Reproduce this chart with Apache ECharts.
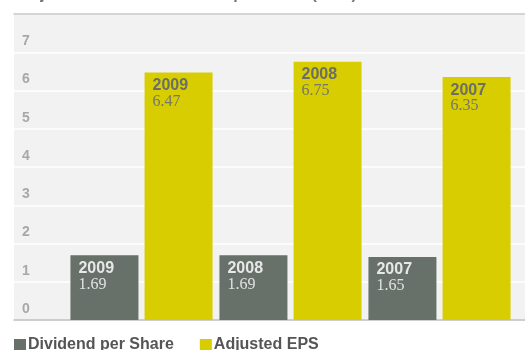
<!DOCTYPE html>
<html>
<head>
<meta charset="utf-8">
<script src="https://cdn.jsdelivr.net/npm/echarts@6/dist/echarts.min.js"></script>
<style>html,body{margin:0;padding:0;background:#fff;}#c{width:525px;height:350px;}</style>
</head>
<body>
<div id="c"></div>
<script>
var years = ['2009', '2008', '2007'];
var dividendPerShare = [1.69, 1.69, 1.65];
var adjustedEPS = [6.47, 6.75, 6.35];
var yTicks = [0, 1, 2, 3, 4, 5, 6, 7];
var seriesNames = ['Dividend per Share', 'Adjusted EPS'];
var titleText = 'Adjusted EPS and Dividend per Share (euro)';

var chart = echarts.init(document.getElementById('c'), null, {renderer: 'canvas'});

function labelCfg(yearColor, valColor) {
  return {
    show: true,
    position: [8, 5],
    formatter: function (p) {
      return '{a|' + years[p.dataIndex] + '}\n{b|' + p.value.toFixed(2) + '}';
    },
    rich: {
      a: {fontFamily: 'Liberation Sans, Arial, sans-serif', fontWeight: 'bold', fontSize: 16, color: yearColor, lineHeight: 16},
      b: {fontFamily: 'Liberation Serif, Times New Roman, serif', fontSize: 16, color: valColor, lineHeight: 16}
    }
  };
}

var option = {
  animation: false,
  title: {
    text: titleText,
    left: 14,
    top: -18,
    padding: 5,
    textStyle: {fontFamily: 'Liberation Sans, Arial, sans-serif', fontWeight: 'bold', fontSize: 16, color: '#777'}
  },
  legend: {
    data: seriesNames.map(function (n) { return {name: n, icon: 'rect'}; }),
    left: 14,
    top: 337,
    padding: 0,
    itemWidth: 12,
    itemHeight: 12,
    itemGap: 26,
    textStyle: {fontFamily: 'Liberation Sans, Arial, sans-serif', fontWeight: 'bold', fontSize: 16, color: '#555', padding: [0, 0, 0, -3]}
  },
  grid: [
    {left: 14, right: 0, top: 14, bottom: 30, show: true, backgroundColor: '#f2f2f2', borderWidth: 0},
    {left: 67, right: 11, top: 14, bottom: 30}
  ],
  xAxis: [
    {gridIndex: 0, type: 'value', min: 0, max: 1, position: 'bottom',
      axisLine: {show: true, lineStyle: {color: '#bdbdbd', width: 1.5}},
      axisTick: {show: false}, axisLabel: {show: false}, splitLine: {show: false}},
    {gridIndex: 0, type: 'value', min: 0, max: 1, position: 'top',
      axisLine: {show: true, lineStyle: {color: '#c8c8c8', width: 1.5}},
      axisTick: {show: false}, axisLabel: {show: false}, splitLine: {show: false}},
    {gridIndex: 1, type: 'category', data: years,
      axisLine: {show: false}, axisTick: {show: false}, axisLabel: {show: false}}
  ],
  yAxis: [
    {gridIndex: 0, type: 'value', min: 0, max: 8, interval: 1,
      axisLine: {show: false}, axisTick: {show: false},
      splitLine: {show: true, lineStyle: {color: '#ffffff', width: 1.5}},
      axisLabel: {
        inside: true, margin: 8, verticalAlign: 'bottom', padding: [0, 0, 4, 0],
        fontFamily: 'Liberation Sans, Arial, sans-serif', fontWeight: 'bold', fontSize: 14, color: '#a8a8a8',
        formatter: function (v) { return yTicks.indexOf(v) >= 0 ? String(v) : ''; }
      }},
    {gridIndex: 1, type: 'value', min: 0, max: 8, interval: 1, show: false,
      splitLine: {show: false}}
  ],
  series: [
    {name: seriesNames[0], type: 'bar', xAxisIndex: 2, yAxisIndex: 1,
      data: dividendPerShare, barWidth: 68, barGap: '9%',
      itemStyle: {color: '#67716a'},
      label: labelCfg('#e8e8e8', '#e2e2e2')},
    {name: seriesNames[1], type: 'bar', xAxisIndex: 2, yAxisIndex: 1,
      data: adjustedEPS, barWidth: 68, barGap: '9%',
      itemStyle: {color: '#d8cd00'},
      label: labelCfg('#6b6e66', '#74766c')}
  ]
};
chart.setOption(option);
</script>
</body>
</html>
